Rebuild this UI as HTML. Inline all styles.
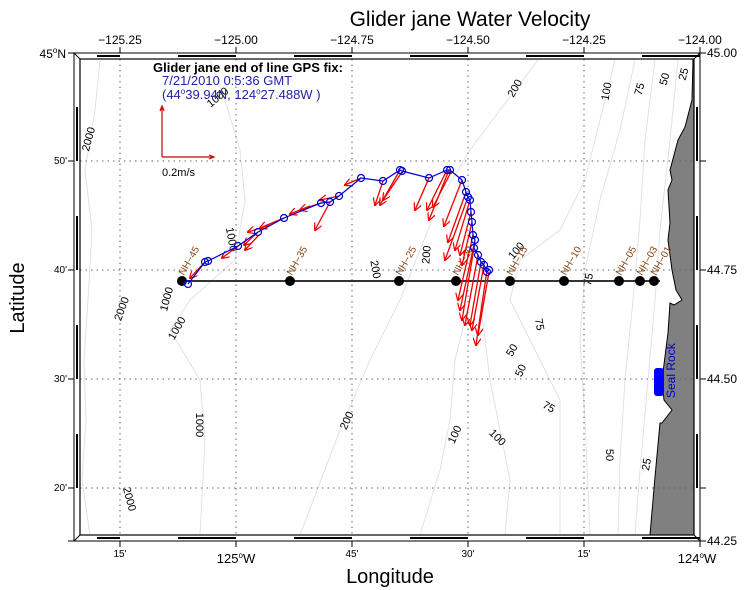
<!DOCTYPE html>
<html><head><meta charset="utf-8"><style>
html,body{margin:0;padding:0;background:#fff;}
svg{display:block;font-family:"Liberation Sans",sans-serif;}
</style></head><body>
<svg width="750" height="590" viewBox="0 0 750 590" xmlns="http://www.w3.org/2000/svg">
<defs>
<marker id="ah" markerWidth="8" markerHeight="8" refX="7" refY="4" orient="auto" markerUnits="userSpaceOnUse">
<path d="M0,0 L8,4 L0,8" fill="none" stroke="#e00" stroke-width="1.2"/>
</marker>
</defs>
<text x="470" y="26" font-size="21" text-anchor="middle">Glider jane Water Velocity</text>
<!-- land -->
<path d="M693,59 L692,100 L685,127 L678,140 L670,170 L672,180 L668,190 L670,223 L668,240 L672,270 L676,290 L682,300 L674,305 L670,303 L668,333 L662,380 L664,400 L672,410 L662,423 L660,423 L655,477 L650,535 L694,535 L694,59 Z" fill="#808080" stroke="#000" stroke-width="1"/>
<!-- contours -->
<g fill="none" stroke="#e2e2e2" stroke-width="1">
<path d="M100,60 L95,110 L85,170 L92,230 L88,300 L84,360 L86,420 L82,480 L90,535"/>
<path d="M210,60 L225,100 L240,150 L245,200 L235,260 L190,300 L170,330 L200,380 L205,440 L200,535"/>
<path d="M538,60 L500,110 L470,150 L440,200 L420,250 L400,300 L370,360 L340,430 L300,535"/>
<path d="M615,60 L600,120 L585,180 L560,230 L520,260 L510,300 L530,340 L560,400 L560,535"/>
<path d="M635,60 L620,130 L600,200 L585,270 L580,340 L585,420 L590,535"/>
<path d="M655,60 L645,140 L640,220 L633,300 L625,380 L620,460 L618,535"/>
<path d="M678,60 L670,140 L660,230 L655,300 L648,380 L640,470 L635,535"/>
<path d="M470,300 L455,360 L450,420 L440,470 L420,535"/>
<path d="M480,300 L490,380 L500,430 L510,480 L505,535"/>
</g>
<g font-size="11" fill="#000">
<text transform="translate(92,140) rotate(-75)" text-anchor="middle">2000</text>
<text transform="translate(220,100) rotate(-40)" text-anchor="middle">1000</text>
<text transform="translate(228,240) rotate(80)" text-anchor="middle">1000</text>
<text transform="translate(170,300) rotate(-75)" text-anchor="middle">1000</text>
<text transform="translate(125,310) rotate(-70)" text-anchor="middle">2000</text>
<text transform="translate(180,330) rotate(-60)" text-anchor="middle">1000</text>
<text transform="translate(196,425) rotate(90)" text-anchor="middle">1000</text>
<text transform="translate(126,500) rotate(75)" text-anchor="middle">2000</text>
<text transform="translate(518,90) rotate(-60)" text-anchor="middle">200</text>
<text transform="translate(610,92) rotate(-80)" text-anchor="middle">100</text>
<text transform="translate(643,90) rotate(-75)" text-anchor="middle">75</text>
<text transform="translate(668,80) rotate(-75)" text-anchor="middle">50</text>
<text transform="translate(687,75) rotate(-75)" text-anchor="middle">25</text>
<text transform="translate(372,270) rotate(80)" text-anchor="middle">200</text>
<text transform="translate(430,255) rotate(-85)" text-anchor="middle">200</text>
<text transform="translate(519,253) rotate(-50)" text-anchor="middle">100</text>
<text transform="translate(592,280) rotate(-80)" text-anchor="middle">75</text>
<text transform="translate(536,325) rotate(80)" text-anchor="middle">75</text>
<text transform="translate(515,352) rotate(-60)" text-anchor="middle">50</text>
<text transform="translate(524,372) rotate(-65)" text-anchor="middle">50</text>
<text transform="translate(547,410) rotate(30)" text-anchor="middle">75</text>
<text transform="translate(350,422) rotate(-65)" text-anchor="middle">200</text>
<text transform="translate(458,436) rotate(-65)" text-anchor="middle">100</text>
<text transform="translate(495,440) rotate(45)" text-anchor="middle">100</text>
<text transform="translate(606,455) rotate(90)" text-anchor="middle">50</text>
<text transform="translate(650,465) rotate(-80)" text-anchor="middle">25</text>
</g>
<!-- grid -->
<g stroke="#666" stroke-width="1" stroke-dasharray="1.5,4">
<line x1="120" y1="59" x2="120" y2="535"/><line x1="236" y1="59" x2="236" y2="535"/>
<line x1="352" y1="59" x2="352" y2="535"/><line x1="468" y1="59" x2="468" y2="535"/>
<line x1="584" y1="59" x2="584" y2="535"/>
<line x1="80" y1="161" x2="694" y2="161"/><line x1="80" y1="270" x2="694" y2="270"/>
<line x1="80" y1="379" x2="694" y2="379"/><line x1="80" y1="488" x2="694" y2="488"/>
</g>
<!-- frame -->
<rect x="74" y="53" width="626" height="488" fill="none" stroke="#000" stroke-width="1"/>
<rect x="80" y="59" width="614" height="476" fill="none" stroke="#000" stroke-width="1.2"/>
<g stroke="#000" stroke-width="1"><line x1="74" y1="53" x2="80" y2="59"/><line x1="700" y1="53" x2="694" y2="59"/><line x1="74" y1="541" x2="80" y2="535"/><line x1="700" y1="541" x2="694" y2="535"/></g>
<g fill="#000">
<rect x="97" y="55" width="23" height="2"/><rect x="178" y="55" width="58" height="2"/><rect x="294" y="55" width="58" height="2"/><rect x="410" y="55" width="58" height="2"/><rect x="526" y="55" width="58" height="2"/><rect x="642" y="55" width="58" height="2"/>
<rect x="97" y="537" width="23" height="2"/><rect x="178" y="537" width="58" height="2"/><rect x="294" y="537" width="58" height="2"/><rect x="410" y="537" width="58" height="2"/><rect x="526" y="537" width="58" height="2"/><rect x="642" y="537" width="58" height="2"/>
<rect x="76" y="107" width="2" height="54"/><rect x="76" y="216" width="2" height="54"/><rect x="76" y="325" width="2" height="54"/><rect x="76" y="434" width="2" height="54"/>
<rect x="696" y="107" width="2" height="54"/><rect x="696" y="216" width="2" height="54"/><rect x="696" y="325" width="2" height="54"/><rect x="696" y="434" width="2" height="54"/>
</g>
<g stroke="#000" stroke-width="1">
<line x1="120" y1="53" x2="120" y2="47"/><line x1="236" y1="53" x2="236" y2="47"/><line x1="352" y1="53" x2="352" y2="47"/><line x1="468" y1="53" x2="468" y2="47"/><line x1="584" y1="53" x2="584" y2="47"/><line x1="700" y1="53" x2="700" y2="47"/>
<line x1="120" y1="541" x2="120" y2="547"/><line x1="236" y1="541" x2="236" y2="547"/><line x1="352" y1="541" x2="352" y2="547"/><line x1="468" y1="541" x2="468" y2="547"/><line x1="584" y1="541" x2="584" y2="547"/><line x1="700" y1="541" x2="700" y2="547"/>
<line x1="68" y1="53" x2="74" y2="53"/><line x1="68" y1="161" x2="74" y2="161"/><line x1="68" y1="270" x2="74" y2="270"/><line x1="68" y1="379" x2="74" y2="379"/><line x1="68" y1="488" x2="74" y2="488"/><line x1="68" y1="541" x2="74" y2="541"/>
<line x1="700" y1="53" x2="706" y2="53"/><line x1="700" y1="161" x2="706" y2="161"/><line x1="700" y1="270" x2="706" y2="270"/><line x1="700" y1="379" x2="706" y2="379"/><line x1="700" y1="488" x2="706" y2="488"/><line x1="700" y1="541" x2="706" y2="541"/>
</g>
<g font-size="12" text-anchor="middle">
<text x="120" y="44">−125.25</text><text x="236" y="44">−125.00</text><text x="352" y="44">−124.75</text><text x="468" y="44">−124.50</text><text x="584" y="44">−124.25</text><text x="700" y="44">−124.00</text>
</g>
<g font-size="12"><text x="707" y="57">45.00</text><text x="707" y="274">44.75</text><text x="707" y="383">44.50</text><text x="707" y="545">44.25</text></g>
<g font-size="10" text-anchor="end"><text x="67" y="164">50'</text><text x="67" y="273">40'</text><text x="67" y="382">30'</text><text x="67" y="491">20'</text></g>
<text x="66" y="58" font-size="12" text-anchor="end">45<tspan font-size="8" dy="-5">o</tspan><tspan dy="5">N</tspan></text>
<g font-size="10" text-anchor="middle"><text x="120" y="557">15'</text><text x="352" y="557">45'</text><text x="468" y="557">30'</text><text x="584" y="557">15'</text></g>
<text x="236" y="563" font-size="13" text-anchor="middle">125<tspan font-size="8" dy="-5">o</tspan><tspan dy="5">W</tspan></text>
<text x="697" y="563" font-size="13" text-anchor="middle">124<tspan font-size="8" dy="-5">o</tspan><tspan dy="5">W</tspan></text>
<text x="390" y="583" font-size="20" text-anchor="middle">Longitude</text>
<text transform="translate(24,298) rotate(-90)" font-size="20" text-anchor="middle">Latitude</text>
<!-- station line -->
<line x1="182" y1="281" x2="660" y2="281" stroke="#333" stroke-width="2"/>
<g fill="#000"><circle cx="182" cy="281" r="5"/><circle cx="290" cy="281" r="5"/><circle cx="399" cy="281" r="5"/><circle cx="456" cy="281" r="5"/><circle cx="510" cy="281" r="5"/><circle cx="564" cy="281" r="5"/><circle cx="619" cy="281" r="5"/><circle cx="640" cy="281" r="5"/><circle cx="654" cy="281" r="5"/></g>
<g font-size="10" fill="#8B4513">
<text transform="translate(184,276) rotate(-60)">NH−45</text><text transform="translate(292,276) rotate(-60)">NH−35</text><text transform="translate(401,276) rotate(-60)">NH−25</text><text transform="translate(458,276) rotate(-60)">NH−20</text><text transform="translate(512,276) rotate(-60)">NH−15</text><text transform="translate(566,276) rotate(-60)">NH−10</text><text transform="translate(621,276) rotate(-60)">NH−05</text><text transform="translate(642,276) rotate(-60)">NH−03</text><text transform="translate(656,276) rotate(-60)">NH−01</text>
</g>
<!-- arrows -->
<g stroke="#e00" stroke-width="1.3" marker-end="url(#ah)">
<line x1="205" y1="262" x2="190" y2="278"/><line x1="238" y1="246" x2="222" y2="258"/><line x1="258" y1="232" x2="244" y2="245"/>
<line x1="284" y1="218" x2="260" y2="228"/><line x1="270" y1="225" x2="248" y2="232"/><line x1="258" y1="236" x2="245" y2="250"/>
<line x1="321" y1="203" x2="300" y2="210"/><line x1="310" y1="206" x2="290" y2="214"/><line x1="330" y1="202" x2="315" y2="230"/>
<line x1="339" y1="196" x2="320" y2="200"/><line x1="361" y1="178" x2="345" y2="185"/><line x1="383" y1="181" x2="375" y2="205"/>
<line x1="400" y1="170" x2="380" y2="205"/><line x1="402" y1="172" x2="383" y2="200"/><line x1="429" y1="178" x2="415" y2="210"/>
<line x1="447" y1="170" x2="427" y2="210"/><line x1="449" y1="170" x2="429" y2="220"/><line x1="451" y1="172" x2="433" y2="207"/>
<line x1="462" y1="180" x2="444" y2="226"/><line x1="466" y1="192" x2="448" y2="242"/><line x1="468" y1="197" x2="445" y2="260"/>
<line x1="470" y1="200" x2="455" y2="250"/><line x1="471" y1="212" x2="460" y2="255"/><line x1="472" y1="222" x2="462" y2="265"/>
<line x1="473" y1="235" x2="458" y2="300"/><line x1="475" y1="240" x2="460" y2="310"/><line x1="474" y1="248" x2="462" y2="320"/>
<line x1="478" y1="255" x2="465" y2="325"/><line x1="481" y1="262" x2="470" y2="325"/><line x1="484" y1="265" x2="472" y2="330"/>
<line x1="487" y1="270" x2="476" y2="345"/><line x1="489" y1="272" x2="478" y2="335"/>
</g>
<!-- track -->
<polyline points="188,284 205,262 208,261 238,246 258,232 284,218 321,203 330,202 339,196 361,178 383,181 400,170 402,171 429,178 447,170 450,170 462,180 466,192 468,197 470,200 471,212 472,222 473,235 475,240 474,248 478,255 481,262 484,265 487,272 489,270" fill="none" stroke="#00c" stroke-width="1.2"/>
<g fill="none" stroke="#00c" stroke-width="1.2">
<circle cx="188" cy="284" r="3.5"/><circle cx="205" cy="262" r="3.5"/><circle cx="208" cy="261" r="3.5"/><circle cx="238" cy="246" r="3.5"/><circle cx="258" cy="232" r="3.5"/><circle cx="284" cy="218" r="3.5"/><circle cx="321" cy="203" r="3.5"/><circle cx="330" cy="202" r="3.5"/><circle cx="339" cy="196" r="3.5"/><circle cx="361" cy="178" r="3.5"/><circle cx="383" cy="181" r="3.5"/><circle cx="400" cy="170" r="3.5"/><circle cx="402" cy="171" r="3.5"/><circle cx="429" cy="178" r="3.5"/><circle cx="447" cy="170" r="3.5"/><circle cx="450" cy="170" r="3.5"/><circle cx="462" cy="180" r="3.5"/><circle cx="466" cy="192" r="3.5"/><circle cx="468" cy="197" r="3.5"/><circle cx="470" cy="200" r="3.5"/><circle cx="471" cy="212" r="3.5"/><circle cx="472" cy="222" r="3.5"/><circle cx="473" cy="235" r="3.5"/><circle cx="475" cy="240" r="3.5"/><circle cx="474" cy="248" r="3.5"/><circle cx="478" cy="255" r="3.5"/><circle cx="481" cy="262" r="3.5"/><circle cx="484" cy="265" r="3.5"/><circle cx="487" cy="272" r="3.5"/><circle cx="489" cy="270" r="3.5"/>
</g>
<!-- legend text -->
<text x="153" y="72" font-size="13" font-weight="bold">Glider jane end of line GPS fix:</text>
<text x="162" y="85" font-size="13" fill="#2222aa">7/21/2010 0:5:36 GMT</text>
<text x="162" y="99" font-size="13" fill="#2222aa">(44<tspan font-size="8" dy="-5">o</tspan><tspan dy="5">39.94N, 124</tspan><tspan font-size="8" dy="-5">o</tspan><tspan dy="5">27.488W )</tspan></text>
<g stroke="#c00" stroke-width="1.2" fill="none"><line x1="162" y1="157" x2="162" y2="107"/><line x1="162" y1="157" x2="213" y2="157"/>
<path d="M160,111 L162,106 L164,111"/><path d="M209,155 L214,157 L209,159"/></g>
<text x="162" y="176" font-size="11">0.2m/s</text>
<!-- Seal Rock -->
<rect x="654" y="368" width="10" height="28" rx="3" fill="#00f"/>
<text transform="translate(675,398) rotate(-90)" font-size="12" fill="#00c">Seal Rock</text>
</svg>
</body></html>
